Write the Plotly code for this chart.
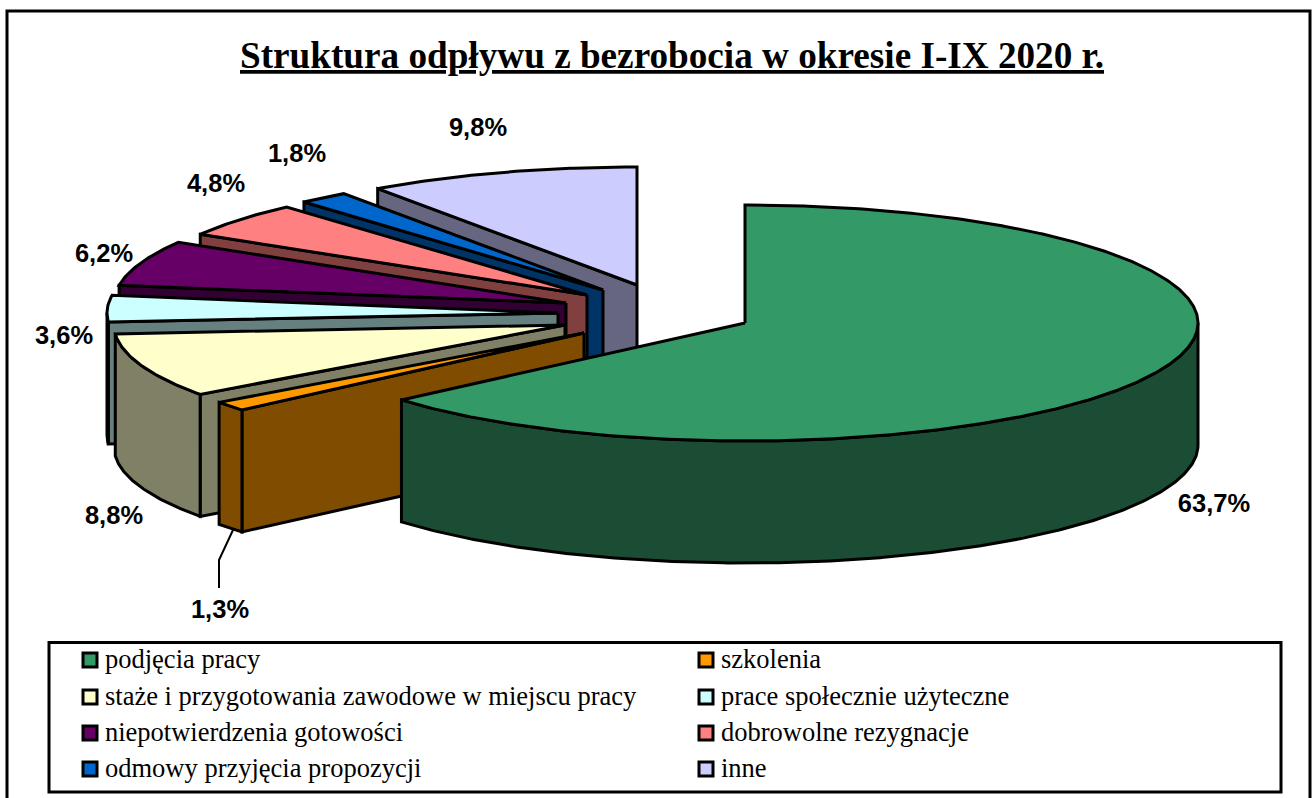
import math
import plotly.graph_objects as go

# ---- data ----
categories = ["podjęcia pracy", "szkolenia",
              "staże i przygotowania zawodowe w miejscu pracy", "prace społecznie użyteczne",
              "niepotwierdzenia gotowości", "dobrowolne rezygnacje",
              "odmowy przyjęcia propozycji", "inne"]
values = [63.7, 1.3, 8.8, 3.6, 6.2, 4.8, 1.8, 9.8]
title_text = "Struktura odpływu z bezrobocia w okresie I-IX 2020 r."

# ---- styles and layout ----
top_colors = ["#339966", "#FF9900", "#FFFFCC", "#CCFFFF", "#660066", "#FF8080", "#0066CC", "#CCCCFF"]
side_colors = ["#1A4D33", "#804D00", "#808066", "#668080", "#330033", "#804040", "#003366", "#666680"]
apex_x = [745, 584, 565, 558, 566, 587, 603, 637]
apex_y = [323, 333, 325, 313, 303, 295, 290, 285]
radius_x = [453, 451, 451, 451, 452, 451, 449, 449]
label_x = [1214, 220, 114, 64, 104, 216, 297, 478]
label_y = [506, 612, 518, 338, 256, 186, 156, 130]
legend_col_x = [90, 706]
legend_row_y = [660, 697, 733, 769]
LEGEND_TEXT_DX, LEGEND_TEXT_DY = 15, 1
RY, DEPTH = 118, 122
LW = 3
W, H = 1313, 798


def rim(cx, cy, rx, a, dy=0):
    r = math.radians(a)
    return cx + rx * math.sin(r), cy - RY * math.cos(r) + dy


def arc(cx, cy, rx, a0, a1, dy=0):
    n = max(2, int(abs(a1 - a0) * 2) + 1)
    return [rim(cx, cy, rx, a0 + (a1 - a0) * i / (n - 1), dy) for i in range(n)]


fig = go.Figure()


def poly(pts, color, name):
    pts = list(pts) + [pts[0]]
    fig.add_trace(go.Scatter(x=[p[0] for p in pts], y=[p[1] for p in pts], mode="lines",
                             fill="toself", fillcolor=color, line=dict(color="black", width=LW),
                             showlegend=False, hoverinfo="skip", name=name))


total = sum(values)
edges = [0]
for v in values:
    edges.append(edges[-1] + v / total * 360)

# painter's order: rear slices first
for i in range(len(values) - 1, -1, -1):
    a0, a1 = edges[i], edges[i + 1]
    cx, cy, rx = apex_x[i], apex_y[i], radius_x[i]
    if 180 < a0 < 360:
        p = rim(cx, cy, rx, a0)
        poly([(cx, cy), p, (p[0], p[1] + DEPTH), (cx, cy + DEPTH)], side_colors[i], categories[i])
    lo, hi = max(a0, 90), min(a1, 270)
    if lo < hi:
        poly(arc(cx, cy, rx, lo, hi) + arc(cx, cy, rx, hi, lo, DEPTH), side_colors[i], categories[i])
    poly([(cx, cy)] + arc(cx, cy, rx, a0, a1), top_colors[i], categories[i])

# leader line of the small slice
fig.add_trace(go.Scatter(x=[233, 219, 219], y=[530, 560, 588], mode="lines",
                         line=dict(color="black", width=2), showlegend=False, hoverinfo="skip"))

# value labels
fig.add_trace(go.Scatter(x=label_x, y=label_y, mode="text",
                         text=[f"{v:.1f}%".replace(".", ",") for v in values],
                         textposition="middle center",
                         textfont=dict(family="Liberation Sans", size=25.5, color="black", weight=700),
                         showlegend=False, hoverinfo="skip"))

# legend entries, two columns filled row by row
for i, (name, col) in enumerate(zip(categories, top_colors)):
    lx, ly = legend_col_x[i % 2], legend_row_y[i // 2]
    fig.add_trace(go.Scatter(x=[lx], y=[ly], mode="markers", name=name,
                             marker=dict(symbol="square", size=14, color=col,
                                         line=dict(color="black", width=3)),
                             showlegend=False, hoverinfo="skip"))
    fig.add_trace(go.Scatter(x=[lx + LEGEND_TEXT_DX], y=[ly + LEGEND_TEXT_DY], mode="text",
                             name=name, text=[name], textposition="middle right",
                             textfont=dict(family="Liberation Serif", size=26.5, color="black"),
                             showlegend=False, hoverinfo="skip"))

fig.update_layout(
    width=W, height=H, margin=dict(l=0, r=0, t=0, b=0, autoexpand=False),
    paper_bgcolor="white", plot_bgcolor="white", showlegend=False,
    xaxis=dict(range=[0, W], visible=False, fixedrange=True),
    yaxis=dict(range=[H, 0], visible=False, fixedrange=True),
    title=dict(text=f"<u>{title_text}</u>", x=672 / W, xanchor="center", y=1 - 55 / H, yanchor="middle",
               font=dict(family="Liberation Serif", size=37.2, color="black", weight=700)),
    shapes=[
        dict(type="rect", xref="x", yref="y", x0=7, y0=11, x1=1310, y1=820, line=dict(color="black", width=LW)),
        dict(type="rect", xref="x", yref="y", x0=49, y0=642.5, x1=1281, y1=792, line=dict(color="black", width=LW)),
    ],
)

fig.write_html("out.html", config={"displayModeBar": False},
               post_script="document.body.style.margin='0';document.body.style.overflow='hidden';")
